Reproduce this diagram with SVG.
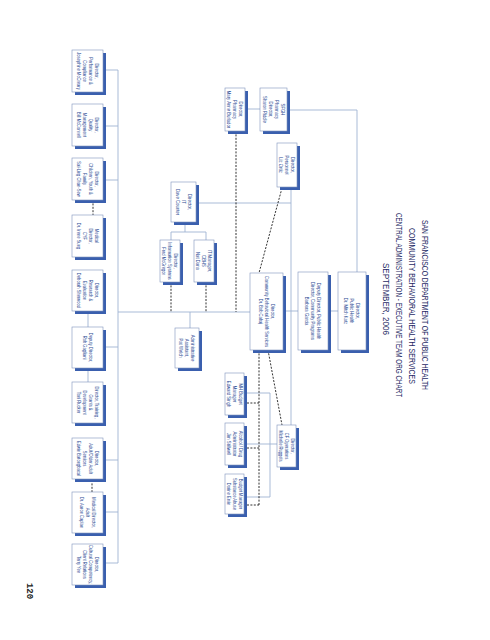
<svg xmlns="http://www.w3.org/2000/svg" width="490" height="640" viewBox="0 0 490 640">
<style>
.sh{fill:#3a5fae}
.bx{fill:#fff;stroke:#7f93bd;stroke-width:0.6}
.t{font-family:"Liberation Sans",Arial,sans-serif;font-size:5px;fill:#2c4b94}
.ti{font-family:"Liberation Sans",Arial,sans-serif;font-size:8.6px;fill:#1f2b66}
.s{fill:none;stroke:#9fb3d3;stroke-width:0.9}
.d{fill:none;stroke:#1a1a1a;stroke-width:0.9;stroke-dasharray:2 1.4}
</style>
<rect width="490" height="640" fill="#fff"/>
<g id="title">
<text class="ti" transform="translate(421.5 305) rotate(90)" text-anchor="middle" textLength="170" lengthAdjust="spacingAndGlyphs">SAN FRANCISCO DEPARTMENT OF PUBLIC HEALTH</text>
<text class="ti" transform="translate(408.5 306) rotate(90)" text-anchor="middle" textLength="156" lengthAdjust="spacingAndGlyphs">COMMUNITY BEHAVIORAL HEALTH SERVICES</text>
<text class="ti" transform="translate(395.5 305) rotate(90)" text-anchor="middle" textLength="184" lengthAdjust="spacingAndGlyphs">CENTRAL ADMINISTRATION - EXECUTIVE TEAM ORG CHART</text>
<text class="ti" transform="translate(382.5 299) rotate(90)" text-anchor="middle" textLength="72" lengthAdjust="spacingAndGlyphs">SEPTEMBER, 2006</text>
</g>
<g id="connectors">
<path class="s" d="M118 70V563M105 70H118M105 126H118M105 180H118M105 347H118M105 460H118M105 512H118M105 563H118"/>
<path class="s" d="M88 311V327M88 368V382"/>
<path class="s" d="M118 312H250M190 312V328"/>
<path class="s" d="M199 203H291M185 222V232M171 232H206M171 232V240M206 232V240"/>
<path class="s" d="M291 187V425M283 311H298M328 311H338M357 272V110H290M248 109H260"/>
<path class="s" d="M247 393H270V497H247M247 444H277"/>
<path class="d" d="M282 188L259 273M268 350L282 425M259 350V505M247 403H259M247 448H259M247 505H259"/>
<path class="d" d="M236 131V312M171 282V312M206 282V312M93 200V215M92 480V492"/>
</g>
<g id="n_ph"><rect class="sh" x="341" y="275" width="28" height="78"/><rect class="bx" x="338" y="272" width="28" height="78"/>
<text class="t" transform="translate(352 311) rotate(90) scale(0.85 1)" text-anchor="middle"><tspan x="0" y="-4.2">Director,</tspan><tspan x="0" y="1.8">Public Health</tspan><tspan x="0" y="7.8">Dr. Mitch Katz</tspan></text></g>
<g id="n_garcia"><rect class="sh" x="301" y="275" width="30" height="78"/><rect class="bx" x="298" y="272" width="30" height="78"/>
<text class="t" transform="translate(313 311) rotate(90) scale(0.85 1)" text-anchor="middle"><tspan x="0" y="-4.2">Deputy Director, Public Health</tspan><tspan x="0" y="1.8">Director, Community Programs</tspan><tspan x="0" y="7.8">Barbara Garcia</tspan></text></g>
<g id="n_cbhs"><rect class="sh" x="253" y="276" width="33" height="77"/><rect class="bx" x="250" y="273" width="33" height="77"/>
<text class="t" transform="translate(266.5 311.5) rotate(90) scale(0.82 1)" text-anchor="middle"><tspan x="0" y="-4.2">Director,</tspan><tspan x="0" y="1.8">Community Behavioral Health Services</tspan><tspan x="0" y="7.8">Dr. Bob Cabaj</tspan></text></g>
<g id="n_pers"><rect class="sh" x="280" y="146" width="20" height="44"/><rect class="bx" x="277" y="143" width="20" height="44"/>
<text class="t" transform="translate(287 165) rotate(90) scale(0.85 1)" text-anchor="middle"><tspan x="0" y="-4.2">Director,</tspan><tspan x="0" y="1.8">Personnel</tspan><tspan x="0" y="7.8">Liz Ortiz</tspan></text></g>
<g id="n_sfgh"><rect class="sh" x="263" y="91" width="27" height="43"/><rect class="bx" x="260" y="88" width="27" height="43"/>
<text class="t" transform="translate(273.5 109.5) rotate(90) scale(0.85 1)" text-anchor="middle"><tspan x="0" y="-7.2">SFGH</tspan><tspan x="0" y="-1.2">Pharmacy</tspan><tspan x="0" y="4.8">Director,</tspan><tspan x="0" y="10.8">Sharon Riddle</tspan></text></g>
<g id="n_pharm"><rect class="sh" x="228" y="91" width="20" height="43"/><rect class="bx" x="225" y="88" width="20" height="43"/>
<text class="t" transform="translate(235 109.5) rotate(90) scale(0.85 1)" text-anchor="middle"><tspan x="0" y="-4.2">Director,</tspan><tspan x="0" y="1.8">Pharmacy</tspan><tspan x="0" y="7.8">Mary Anne Burlador</tspan></text></g>
<g id="n_it"><rect class="sh" x="174" y="185" width="25" height="40"/><rect class="bx" x="171" y="182" width="25" height="40"/>
<text class="t" transform="translate(183.5 202) rotate(90) scale(0.85 1)" text-anchor="middle"><tspan x="0" y="-4.2">Director,</tspan><tspan x="0" y="1.8">IT</tspan><tspan x="0" y="7.8">Dave Counter</tspan></text></g>
<g id="n_is"><rect class="sh" x="163" y="243" width="20" height="42"/><rect class="bx" x="160" y="240" width="20" height="42"/>
<text class="t" transform="translate(170 261) rotate(90) scale(0.82 1)" text-anchor="middle"><tspan x="0" y="-4.2">Director,</tspan><tspan x="0" y="1.8">Information Systems</tspan><tspan x="0" y="7.8">Fred McGregor</tspan></text></g>
<g id="n_itm"><rect class="sh" x="197" y="243" width="20" height="42"/><rect class="bx" x="194" y="240" width="20" height="42"/>
<text class="t" transform="translate(204 261) rotate(90) scale(0.85 1)" text-anchor="middle"><tspan x="0" y="-4.2">IT Manager,</tspan><tspan x="0" y="1.8">CBHS</tspan><tspan x="0" y="7.8">Nat Dana</tspan></text></g>
<g id="n_admin"><rect class="sh" x="178" y="331" width="24" height="40"/><rect class="bx" x="175" y="328" width="24" height="40"/>
<text class="t" transform="translate(187 348) rotate(90) scale(0.85 1)" text-anchor="middle"><tspan x="0" y="-4.2">Administrative</tspan><tspan x="0" y="1.8">Assistant,</tspan><tspan x="0" y="7.8">Pat Welch</tspan></text></g>
<g id="n_mhb"><rect class="sh" x="228" y="376" width="19" height="42"/><rect class="bx" x="225" y="373" width="19" height="42"/>
<text class="t" transform="translate(234.5 394) rotate(90) scale(0.85 1)" text-anchor="middle"><tspan x="0" y="-4.2">MH Budget</tspan><tspan x="0" y="1.8">Manager</tspan><tspan x="0" y="7.8">Edward Singh</tspan></text></g>
<g id="n_aod"><rect class="sh" x="228" y="426" width="19" height="42"/><rect class="bx" x="225" y="423" width="19" height="42"/>
<text class="t" transform="translate(234.5 444) rotate(90) scale(0.85 1)" text-anchor="middle"><tspan x="0" y="-4.2">Alcohol / Drug</tspan><tspan x="0" y="1.8">Administrator</tspan><tspan x="0" y="7.8">Jim Stillwell</tspan></text></g>
<g id="n_bsa"><rect class="sh" x="228" y="477" width="19" height="40"/><rect class="bx" x="225" y="474" width="19" height="40"/>
<text class="t" transform="translate(234.5 494) rotate(90) scale(0.82 1)" text-anchor="middle"><tspan x="0" y="-4.2">Budget Manager</tspan><tspan x="0" y="1.8">Substance Abuse</tspan><tspan x="0" y="7.8">Dorine Ervin</tspan></text></g>
<g id="n_cfo"><rect class="sh" x="280" y="428" width="19" height="42"/><rect class="bx" x="277" y="425" width="19" height="42"/>
<text class="t" transform="translate(286.5 446) rotate(90) scale(0.82 1)" text-anchor="middle"><tspan x="0" y="-4.2">Director,</tspan><tspan x="0" y="1.8">CF Operations</tspan><tspan x="0" y="7.8">Michelle Ruggels</tspan></text></g>
<g id="n_b1"><rect class="sh" x="75" y="53" width="31" height="42"/><rect class="bx" x="72" y="50" width="31" height="42"/>
<text class="t" transform="translate(87.5 71) rotate(90) scale(0.82 1)" text-anchor="middle"><tspan x="0" y="-7.2">Director,</tspan><tspan x="0" y="-1.2">Performance &amp;</tspan><tspan x="0" y="4.8">Compliance</tspan><tspan x="0" y="10.8">Josephine McCreary</tspan></text></g>
<g id="n_b2"><rect class="sh" x="75" y="107" width="31" height="42"/><rect class="bx" x="72" y="104" width="31" height="42"/>
<text class="t" transform="translate(87.5 125) rotate(90) scale(0.82 1)" text-anchor="middle"><tspan x="0" y="-7.2">Director,</tspan><tspan x="0" y="-1.2">Quality</tspan><tspan x="0" y="4.8">Management</tspan><tspan x="0" y="10.8">Bill McConnell</tspan></text></g>
<g id="n_b3"><rect class="sh" x="75" y="161" width="31" height="42"/><rect class="bx" x="72" y="158" width="31" height="42"/>
<text class="t" transform="translate(87.5 179) rotate(90) scale(0.82 1)" text-anchor="middle"><tspan x="0" y="-7.2">Director,</tspan><tspan x="0" y="-1.2">Children, Youth &amp;</tspan><tspan x="0" y="4.8">Family</tspan><tspan x="0" y="10.8">Sai-Ling Chan-Sew</tspan></text></g>
<g id="n_b4"><rect class="sh" x="75" y="218" width="31" height="42"/><rect class="bx" x="72" y="215" width="31" height="42"/>
<text class="t" transform="translate(87.5 236) rotate(90) scale(0.82 1)" text-anchor="middle"><tspan x="0" y="-7.2">Medical</tspan><tspan x="0" y="-1.2">Director,</tspan><tspan x="0" y="4.8">CYF</tspan><tspan x="0" y="10.8">Dr. Irene Sung</tspan></text></g>
<g id="n_b5"><rect class="sh" x="75" y="273" width="31" height="41"/><rect class="bx" x="72" y="270" width="31" height="41"/>
<text class="t" transform="translate(87.5 290.5) rotate(90) scale(0.82 1)" text-anchor="middle"><tspan x="0" y="-7.2">Director,</tspan><tspan x="0" y="-1.2">Research &amp;</tspan><tspan x="0" y="4.8">Evaluation</tspan><tspan x="0" y="10.8">Deborah Sherwood</tspan></text></g>
<g id="n_b6"><rect class="sh" x="75" y="330" width="31" height="41"/><rect class="bx" x="72" y="327" width="31" height="41"/>
<text class="t" transform="translate(87.5 347.5) rotate(90) scale(0.82 1)" text-anchor="middle"><tspan x="0" y="-1.2">Deputy Director,</tspan><tspan x="0" y="4.8">Rob Gagliani</tspan></text></g>
<g id="n_b7"><rect class="sh" x="75" y="385" width="31" height="41"/><rect class="bx" x="72" y="382" width="31" height="41"/>
<text class="t" transform="translate(87.5 402.5) rotate(90) scale(0.82 1)" text-anchor="middle"><tspan x="0" y="-7.2">Director, Training,</tspan><tspan x="0" y="-1.2">Grants &amp;</tspan><tspan x="0" y="4.8">Development</tspan><tspan x="0" y="10.8">Toni Rucker</tspan></text></g>
<g id="n_b8"><rect class="sh" x="75" y="441" width="31" height="41"/><rect class="bx" x="72" y="438" width="31" height="41"/>
<text class="t" transform="translate(87.5 458.5) rotate(90) scale(0.82 1)" text-anchor="middle"><tspan x="0" y="-7.2">Director,</tspan><tspan x="0" y="-1.2">Adult/Older Adult</tspan><tspan x="0" y="4.8">Services</tspan><tspan x="0" y="10.8">Edwin Batongbacal</tspan></text></g>
<g id="n_b9"><rect class="sh" x="75" y="495" width="31" height="41"/><rect class="bx" x="72" y="492" width="31" height="41"/>
<text class="t" transform="translate(87.5 512.5) rotate(90) scale(0.82 1)" text-anchor="middle"><tspan x="0" y="-4.2">Medical Director,</tspan><tspan x="0" y="1.8">Adult</tspan><tspan x="0" y="7.8">Dr. Aaron Caplan</tspan></text></g>
<g id="n_b10"><rect class="sh" x="75" y="547" width="31" height="41"/><rect class="bx" x="72" y="544" width="31" height="41"/>
<text class="t" transform="translate(87.5 564.5) rotate(90) scale(0.82 1)" text-anchor="middle"><tspan x="0" y="-7.2">Director,</tspan><tspan x="0" y="-1.2">Cultural Competency,</tspan><tspan x="0" y="4.8">Client Relations</tspan><tspan x="0" y="10.8">Terry Yee</tspan></text></g>
<text transform="translate(27 591) rotate(90)" text-anchor="middle" font-family="'Liberation Mono',monospace" font-weight="bold" font-size="9" fill="#222">120</text>
</svg>
